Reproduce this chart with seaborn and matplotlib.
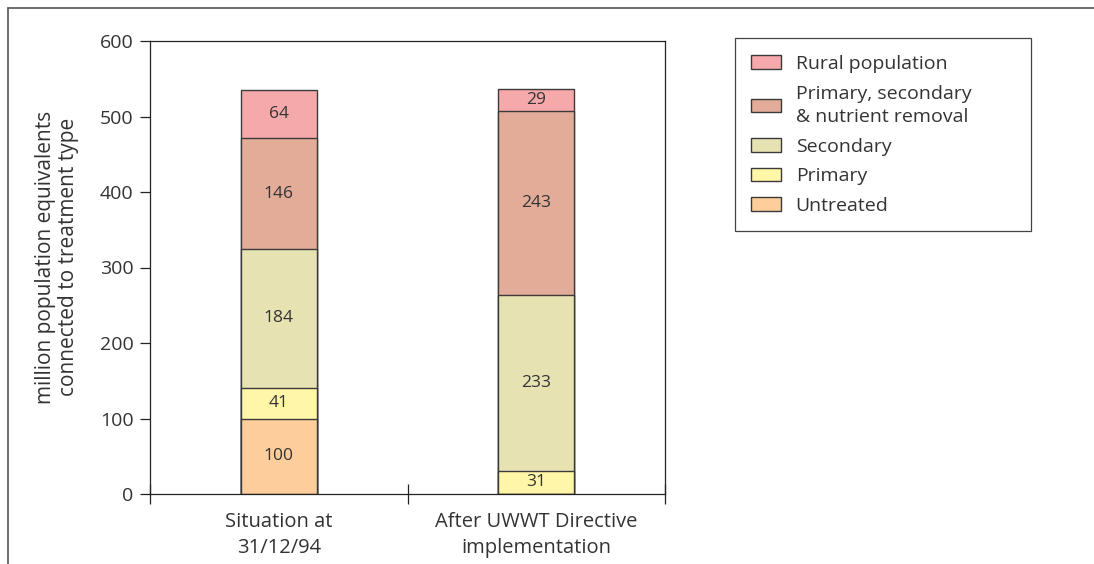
import numpy as np
import pandas as pd
import matplotlib
matplotlib.use("Agg")
import matplotlib.pyplot as plt
from matplotlib.lines import Line2D
from matplotlib.patches import Patch, Rectangle
import seaborn as sns

# ---- data ----
situations = ["Situation at\n31/12/94", "After UWWT Directive\nimplementation"]
untreated = [100, 0]
primary = [41, 31]
secondary = [184, 233]
psn_removal = [146, 243]
rural = [64, 29]

layer_names = ["Untreated", "Primary", "Secondary",
               "Primary, secondary\n& nutrient removal", "Rural population"]
layer_values = [untreated, primary, secondary, psn_removal, rural]
layer_colors = ["#FDCD9B", "#FFF6A8", "#E7E2B2", "#E2AC98", "#F6A9AA"]

# ---- style ----
sns.set_style("white")
plt.rcParams["font.family"] = ["Open Sans", "DejaVu Sans"]
text_color = "#333333"
edge_color = "#3a3a3a"

fig = plt.figure(figsize=(10.94, 5.64), dpi=100)
ax = fig.add_axes([150 / 1094, 70 / 564, 515 / 1094, 453 / 564])

# cumulative tops, drawn from the top layer downwards so each overlays the last
cum = np.cumsum(np.array(layer_values), axis=0)
for i in range(len(layer_names) - 1, -1, -1):
    df = pd.DataFrame({"situation": situations, "top": cum[i]})
    sns.barplot(data=df, x="situation", y="top", color=layer_colors[i],
                width=0.295, edgecolor=edge_color, linewidth=1.0,
                saturation=1, ax=ax)

# segment labels
for i, vals in enumerate(layer_values):
    for j, v in enumerate(vals):
        if v > 0:
            ax.text(j, cum[i][j] - v / 2, str(v), ha="center", va="center",
                    fontsize=12.5, color=text_color)

ax.set_xlim(-0.5, 1.5)
ax.set_ylim(0, 600)
ax.set_yticks(range(0, 601, 100))
ax.set_xlabel("")
ax.set_ylabel("million population equivalents\nconnected to treatment type",
              fontsize=15, color=text_color, linespacing=1.15)
ax.yaxis.set_label_coords(-0.138, 0.523)

# category boundaries as major ticks, labels on minor ticks
ax.set_xticks([-0.5, 0.5, 1.5])
ax.set_xticklabels([])
ax.set_xticks([0, 1], minor=True)
ax.set_xticklabels(situations, minor=True, fontsize=14.5, color=text_color,
                   linespacing=1.4)
ax.tick_params(axis="x", which="major", direction="inout", length=15,
               width=0.9, color="#222222")
ax.tick_params(axis="x", which="minor", length=0, pad=13)
ax.tick_params(axis="y", direction="out", length=7, width=0.9,
               color="#222222", labelsize=14, labelcolor=text_color, pad=5)
ax.tick_params(left=True, bottom=True)

for side in ["left", "right", "top", "bottom"]:
    ax.spines[side].set_visible(True)
    ax.spines[side].set_color("#222222")
    ax.spines[side].set_linewidth(0.9)

# legend (top layer first); frame drawn separately to match the wide box
handles = [Patch(facecolor=layer_colors[i], edgecolor=edge_color, linewidth=1.0)
           for i in range(len(layer_names) - 1, -1, -1)]
labels = [layer_names[i] for i in range(len(layer_names) - 1, -1, -1)]
leg = fig.legend(handles, labels, loc="upper left",
                 bbox_to_anchor=(751 / 1094, 1 - 55 / 564),
                 frameon=False, fontsize=14,
                 handlelength=1.55, handleheight=0.7, handletextpad=0.75,
                 labelspacing=0.6, borderpad=0, borderaxespad=0,
                 labelcolor=text_color)
for t in leg.get_texts():
    t.set_linespacing(1.38)
fig.add_artist(Rectangle((735 / 1094, (564 - 231) / 564), 296 / 1094, 193 / 564,
                         transform=fig.transFigure, fill=False,
                         edgecolor="#444444", linewidth=0.9))

# figure frame lines at left and top
fig.add_artist(Line2D([8 / 1094, 8 / 1094], [0, 1 - 8 / 564],
                      transform=fig.transFigure, color="#555555", lw=1.2))
fig.add_artist(Line2D([8 / 1094, 1], [1 - 8 / 564, 1 - 8 / 564],
                      transform=fig.transFigure, color="#555555", lw=1.2))

fig.savefig("out.png", dpi=100)
